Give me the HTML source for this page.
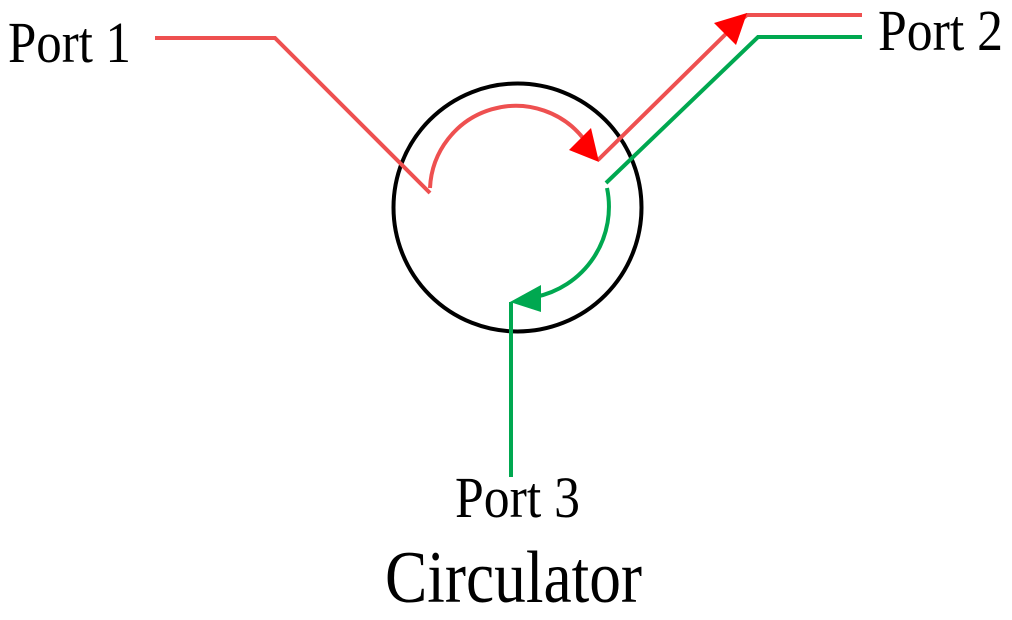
<!DOCTYPE html>
<html><head><style>html,body{margin:0;padding:0;background:#fff}svg{display:block}</style></head>
<body>
<svg width="1012" height="620" viewBox="0 0 1012 620" xmlns="http://www.w3.org/2000/svg">
<g font-family="Liberation Serif, serif" fill="#000">
<text x="8" y="62" font-size="58" textLength="123" lengthAdjust="spacingAndGlyphs">Port 1</text>
<text x="878" y="50" font-size="58" textLength="125" lengthAdjust="spacingAndGlyphs">Port 2</text>
<text x="455" y="517" font-size="58" textLength="125" lengthAdjust="spacingAndGlyphs">Port 3</text>
<text x="385" y="602" font-size="74" textLength="257" lengthAdjust="spacingAndGlyphs">Circulator</text>
</g>
<circle cx="517.5" cy="207.5" r="124" fill="none" stroke="#000" stroke-width="4"/>
<g fill="none" stroke="#ee5050" stroke-width="4">
<polyline points="155,38 275,38 430,193"/>
<path d="M430,188 A86,86 0 0 1 586,142"/>
<polyline points="598,160 735,25 747,15 862,15"/>
</g>
<polygon points="599,162 569,150 591,128" fill="#ff0000"/>
<polygon points="747,13 736,45 714,23" fill="#ff0000"/>
<g fill="none" stroke="#00a850" stroke-width="4">
<polyline points="862,37 758,37 606,183"/>
<path d="M607,188 A92,92 0 0 1 535,297"/>
<polyline points="511,302 511,477"/>
</g>
<polygon points="510,302 541,285 541,312" fill="#00a850"/>
</svg>
</body></html>
